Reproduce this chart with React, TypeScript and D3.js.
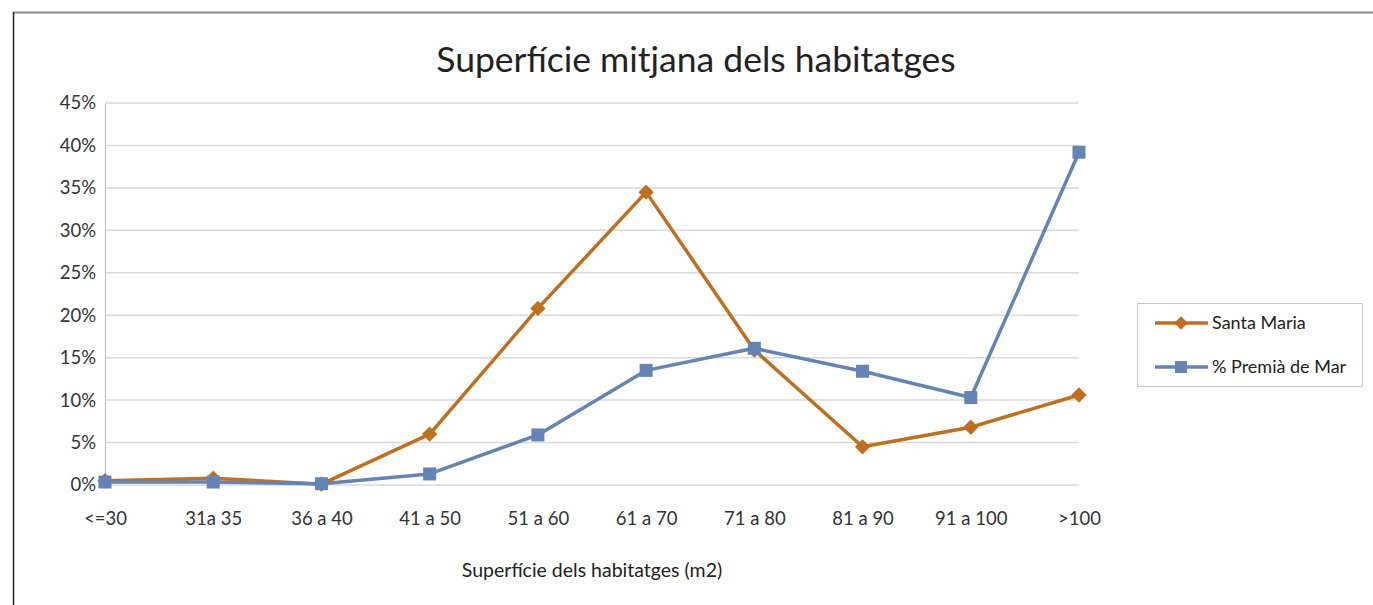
import { useEffect, useRef } from "react";
import * as d3 from "d3";

const categories = ["<=30", "31a 35", "36 a 40", "41 a 50", "51 a 60", "61 a 70", "71 a 80", "81 a 90", "91 a 100", ">100"];
const santaMaria = [0.5, 0.8, 0.1, 6.0, 20.8, 34.5, 15.9, 4.5, 6.8, 10.6];
const premia = [0.35, 0.35, 0.15, 1.3, 5.9, 13.5, 16.1, 13.4, 10.3, 39.2];
const yTicks = [0, 5, 10, 15, 20, 25, 30, 35, 40, 45];

const seriesNames = ["Santa Maria", "% Premià de Mar"];
const seriesColors = ["#BF6F1F", "#6384B5"];

const FONT = "Lato, 'Open Sans', sans-serif";

export default function App() {
  const svgRef = useRef<SVGSVGElement>(null);

  useEffect(() => {
    document.body.style.margin = "0";
    const width = 1373;
    const height = 605;
    const marginLeft = 105;
    const marginRight = 294;
    const marginTop = 103;
    const plotBottom = 485;

    const svg = d3.select(svgRef.current)
      .attr("width", width)
      .attr("height", height)
      .style("display", "block")
      .style("font-family", FONT);
    svg.selectAll("*").remove();

    svg.append("rect").attr("width", width).attr("height", height).attr("fill", "#fff");

    // frame
    svg.append("line").attr("x1", 13).attr("x2", width).attr("y1", 12.5).attr("y2", 12.5)
      .attr("stroke", "#8a8a8a").attr("stroke-width", 2);
    svg.append("line").attr("x1", 13.5).attr("x2", 13.5).attr("y1", 12).attr("y2", height)
      .attr("stroke", "#222").attr("stroke-width", 1.5);

    const x = d3.scalePoint<string>()
      .domain(categories)
      .range([marginLeft, width - marginRight]);

    const y = d3.scaleLinear()
      .domain([0, 45])
      .range([plotBottom, marginTop]);

    // gridlines
    svg.append("g")
      .selectAll("line")
      .data(yTicks)
      .enter()
      .append("line")
      .attr("x1", marginLeft)
      .attr("x2", width - marginRight)
      .attr("y1", d => y(d))
      .attr("y2", d => y(d))
      .attr("stroke", "#d9d9d9")
      .attr("stroke-width", 1.5);

    // y axis
    const yAxis = svg.append("g")
      .attr("transform", `translate(${marginLeft},0)`)
      .call(d3.axisLeft(y).tickValues(yTicks).tickSize(0).tickPadding(9).tickFormat(d => `${d}%`));
    yAxis.select(".domain").attr("stroke", "#bfbfbf").attr("stroke-width", 1.2);
    yAxis.selectAll("text").attr("font-size", 18.5).attr("fill", "#333").attr("font-family", FONT);

    // x axis
    const xAxis = svg.append("g")
      .attr("transform", `translate(0,${plotBottom})`)
      .call(d3.axisBottom(x).tickSize(0).tickPadding(27));
    xAxis.select(".domain").remove();
    xAxis.selectAll("text").attr("font-size", 18.5).attr("fill", "#333").attr("font-family", FONT);

    const data = [santaMaria, premia];
    const line = d3.line<number>()
      .x((_, i) => x(categories[i]) as number)
      .y(d => y(d));

    data.forEach((vals, s) => {
      svg.append("path")
        .attr("d", line(vals))
        .attr("fill", "none")
        .attr("stroke", seriesColors[s])
        .attr("stroke-width", 3.5)
        .attr("stroke-linejoin", "round");

      const g = svg.append("g");
      if (s === 0) {
        g.selectAll("path")
          .data(vals)
          .enter()
          .append("path")
          .attr("d", d3.symbol(d3.symbolDiamond2, 150)())
          .attr("transform", (d, i) => `translate(${x(categories[i])},${y(d)})`)
          .attr("fill", seriesColors[s]);
      } else {
        g.selectAll("rect")
          .data(vals)
          .enter()
          .append("rect")
          .attr("x", (_, i) => (x(categories[i]) as number) - 6.5)
          .attr("y", d => y(d) - 6.5)
          .attr("width", 13)
          .attr("height", 13)
          .attr("fill", seriesColors[s]);
      }
    });

    // title
    svg.append("text")
      .attr("x", 696)
      .attr("y", 72)
      .attr("text-anchor", "middle")
      .attr("font-size", 35.5)
      .attr("fill", "#222")
      .text("Superfície mitjana dels habitatges");

    // axis title
    svg.append("text")
      .attr("x", (marginLeft + width - marginRight) / 2)
      .attr("y", 577)
      .attr("text-anchor", "middle")
      .attr("font-size", 19.5)
      .attr("fill", "#222")
      .text("Superfície dels habitatges (m2)");

    // legend
    const legend = svg.append("g");
    legend.append("rect")
      .attr("x", 1137.5)
      .attr("y", 303.5)
      .attr("width", 225)
      .attr("height", 83)
      .attr("fill", "#fff")
      .attr("stroke", "#c8c8c8");
    seriesNames.forEach((name, s) => {
      const ly = 323 + s * 44;
      legend.append("line")
        .attr("x1", 1155).attr("x2", 1208).attr("y1", ly).attr("y2", ly)
        .attr("stroke", seriesColors[s]).attr("stroke-width", 3.5);
      if (s === 0) {
        legend.append("path")
          .attr("d", d3.symbol(d3.symbolDiamond2, 120)())
          .attr("transform", `translate(1181,${ly})`)
          .attr("fill", seriesColors[s]);
      } else {
        legend.append("rect")
          .attr("x", 1175).attr("y", ly - 6).attr("width", 12).attr("height", 12)
          .attr("fill", seriesColors[s]);
      }
      legend.append("text")
        .attr("x", 1212)
        .attr("y", ly + 6)
        .attr("font-size", 18)
        .attr("fill", "#222")
        .text(name);
    });
  }, []);

  return <svg ref={svgRef}></svg>;
}
